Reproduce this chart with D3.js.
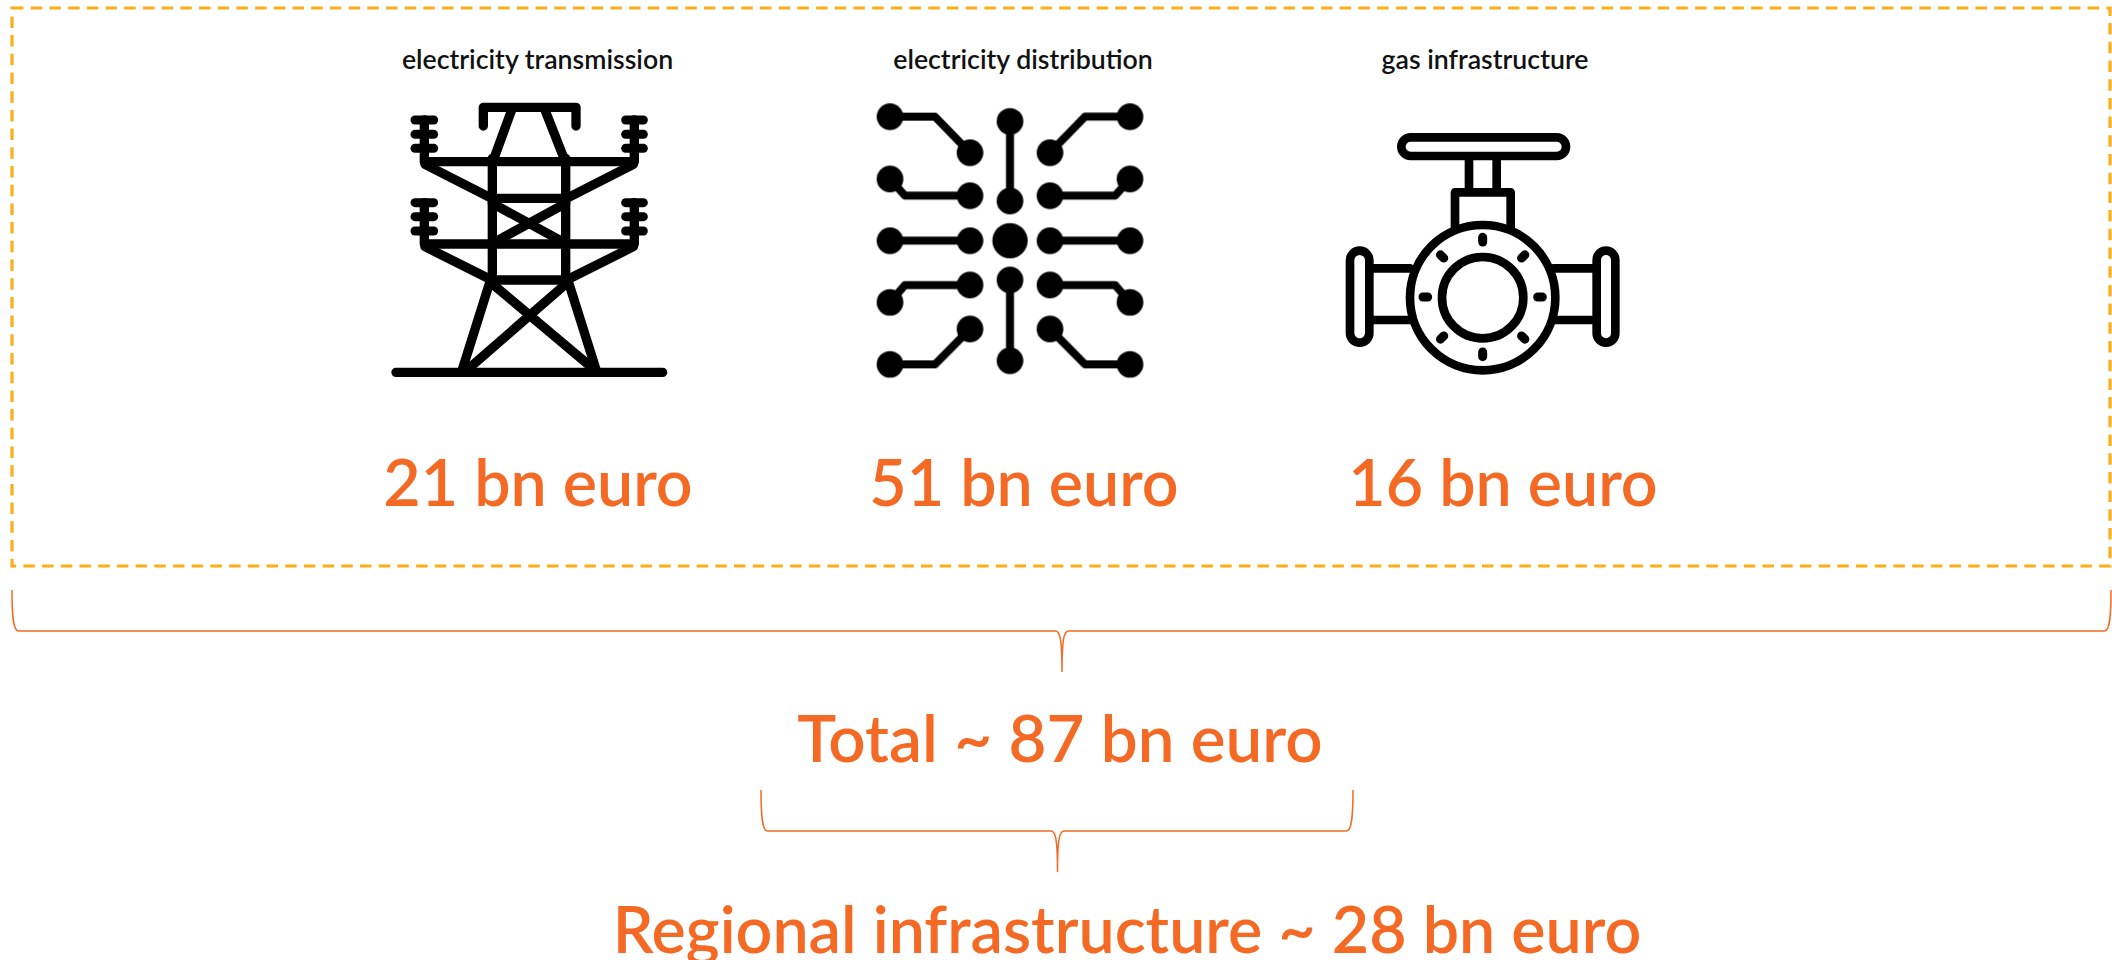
<!DOCTYPE html>
<html><head><meta charset="utf-8">
<script src="https://cdn.jsdelivr.net/npm/d3@7/dist/d3.min.js"></script>
<style>html,body{margin:0;padding:0;background:#fff;overflow:hidden}svg{display:block}text{font-family:Lato,sans-serif}</style>
</head><body><svg id="c" width="2112" height="960"></svg>
<script>
// ---- data ----
const categories = ["electricity transmission", "electricity distribution", "gas infrastructure"];
const valuesBn = [21, 51, 16];
const totalBn = 87;
const regionalBn = 28;
const unitLabel = "bn euro";

// ---- layout ----
const ORANGE = "#f46a25", AMBER = "#fdad1a";
const titleX = [537.5, 1023, 1485];
const valueX = [538, 1024, 1503];
const iconOrigin = [[370,30],[850,30],[1320,30]];

const svg = d3.select("#c");
svg.append("rect").attr("width",2112).attr("height",960).attr("fill","#fff");

const defs = svg.append("defs");
defs.append("filter").attr("id","soft").attr("x","-5%").attr("y","-5%").attr("width","110%").attr("height","110%")
  .append("feGaussianBlur").attr("stdDeviation",1.5);

svg.append("rect").attr("x",12).attr("y",8).attr("width",2098).attr("height",558)
  .attr("fill","none").attr("stroke",AMBER).attr("stroke-width",3.2).attr("stroke-dasharray","11.5 7.2");

// titles and values
svg.selectAll("text.title").data(categories).join("text").attr("class","title")
  .attr("x",(d,i)=>titleX[i]).attr("y",69).attr("text-anchor","middle")
  .attr("font-size",26.7).attr("font-weight",600).attr("fill","#111").text(d=>d);
svg.selectAll("text.value").data(valuesBn).join("text").attr("class","value")
  .attr("x",(d,i)=>valueX[i]).attr("y",506).attr("text-anchor","middle")
  .attr("font-size",64.5).attr("font-weight",600).attr("fill",ORANGE).text(d=>`${d} ${unitLabel}`);
svg.append("text").attr("x",1060).attr("y",762).attr("text-anchor","middle")
  .attr("font-size",65.5).attr("font-weight",600).attr("fill",ORANGE).text(`Total ~ ${totalBn} ${unitLabel}`);
svg.append("text").attr("x",1127).attr("y",953).attr("text-anchor","middle")
  .attr("font-size",64.5).attr("font-weight",600).attr("fill",ORANGE).text(`Regional infrastructure ~ ${regionalBn} ${unitLabel}`);

// braces
function brace(x0,x1,xm,yTop,yBar,yTip,r){
  const p=d3.path();
  p.moveTo(x0,yTop);
  p.bezierCurveTo(x0,yTop+(yBar-yTop)*.6,x0+1,yBar,x0+r,yBar);
  p.lineTo(xm-r,yBar);
  p.bezierCurveTo(xm-2,yBar,xm,yBar+8,xm,yTip);
  p.bezierCurveTo(xm,yBar+8,xm+2,yBar,xm+r,yBar);
  p.lineTo(x1-r,yBar);
  p.bezierCurveTo(x1-1,yBar,x1,yTop+(yBar-yTop)*.6,x1,yTop);
  return p.toString();
}
[[12,2111,1062,590,631,672,6.5],[761,1353,1057.5,790,831,872,6.5]].forEach(a=>{
  svg.append("path").attr("d",brace(...a)).attr("fill","none").attr("stroke",ORANGE).attr("stroke-width",1.5);
});

// ---- icons (zoomed px units, scale 1/3) ----
function icon(i){
  return svg.append("g").attr("transform",`translate(${iconOrigin[i][0]},${iconOrigin[i][1]}) scale(${1/3})`)
    .attr("filter","url(#soft)")
    .attr("fill","none").attr("stroke","#000").attr("stroke-linecap","round").attr("stroke-linejoin","round");
}
// tower
{
  const g=icon(0).attr("stroke-width",28);
  const paths=[
    "M340,288V232H618V288","M425,240L372,385","M525,240L582,385",
    "M165,395H790","M163,270V395","M793,270V395",
    "M165,403L365,505H590L790,403","M367,385V760","M587,385V760",
    "M367,520L587,640","M587,520L367,640",
    "M165,642H790","M163,518V642","M793,518V642",
    "M165,650L365,750H590L790,650",
    "M360,755L275,1025","M595,755L680,1025","M365,760L680,1025","M590,760L285,1025","M78,1027H878"
  ];
  paths.forEach(d=>g.append("path").attr("d",d));
  [270,313,355,518,560,603].forEach(y=>{
    g.append("path").attr("d",`M135,${y}H191`).attr("stroke-width",27);
    g.append("path").attr("d",`M767,${y}H820`).attr("stroke-width",27);
  });
}
// chip
{
  const g=icon(1).attr("stroke-width",24);
  const left=[
    {d:"M120,260H255L360,368",c:[[120,260],[360,368]]},
    {d:"M120,447L165,497H360",c:[[120,447],[360,497]]},
    {d:"M120,632H360",c:[[120,632],[360,632]]},
    {d:"M120,817L165,765H360",c:[[120,817],[360,765]]},
    {d:"M120,1003H255L360,897",c:[[120,1003],[360,897]]}
  ];
  left.forEach(o=>{
    g.append("path").attr("d",o.d);
    g.append("path").attr("d",o.d).attr("transform","translate(960,0) scale(-1,1)");
    o.c.forEach(([x,y])=>{
      g.append("circle").attr("cx",x).attr("cy",y).attr("r",40).attr("fill","#000").attr("stroke","none");
      g.append("circle").attr("cx",960-x).attr("cy",y).attr("r",40).attr("fill","#000").attr("stroke","none");
    });
  });
  g.append("path").attr("d","M480,272V513M480,750V990");
  [[274,40],[513,40],[750,40],[992,40],[632,53]].forEach(([y,r])=>
    g.append("circle").attr("cx",480).attr("cy",y).attr("r",r).attr("fill","#000").attr("stroke","none"));
}
// valve
{
  const g=icon(2).attr("stroke-width",26);
  g.append("rect").attr("x",244).attr("y",322).attr("width",494).attr("height",56).attr("rx",28);
  ["M447,385V480","M530,385V480","M405,590V487H572V590",
   "M270,715H150","M270,870H150","M700,715H830","M700,870H830"].forEach(d=>g.append("path").attr("d",d));
  g.append("circle").attr("cx",488).attr("cy",803).attr("r",218);
  g.append("circle").attr("cx",488).attr("cy",803).attr("r",122);
  g.append("rect").attr("x",90).attr("y",662).attr("width",58).attr("height",276).attr("rx",29);
  g.append("rect").attr("x",830).attr("y",662).attr("width",56).attr("height",276).attr("rx",28);
  d3.range(8).forEach(k=>{
    g.append("path").attr("transform",`translate(488,801) rotate(${k*45}) translate(0,-172)`)
      .attr("d","M0,-7V7").attr("stroke-width",27);
  });
}
</script></body></html>
